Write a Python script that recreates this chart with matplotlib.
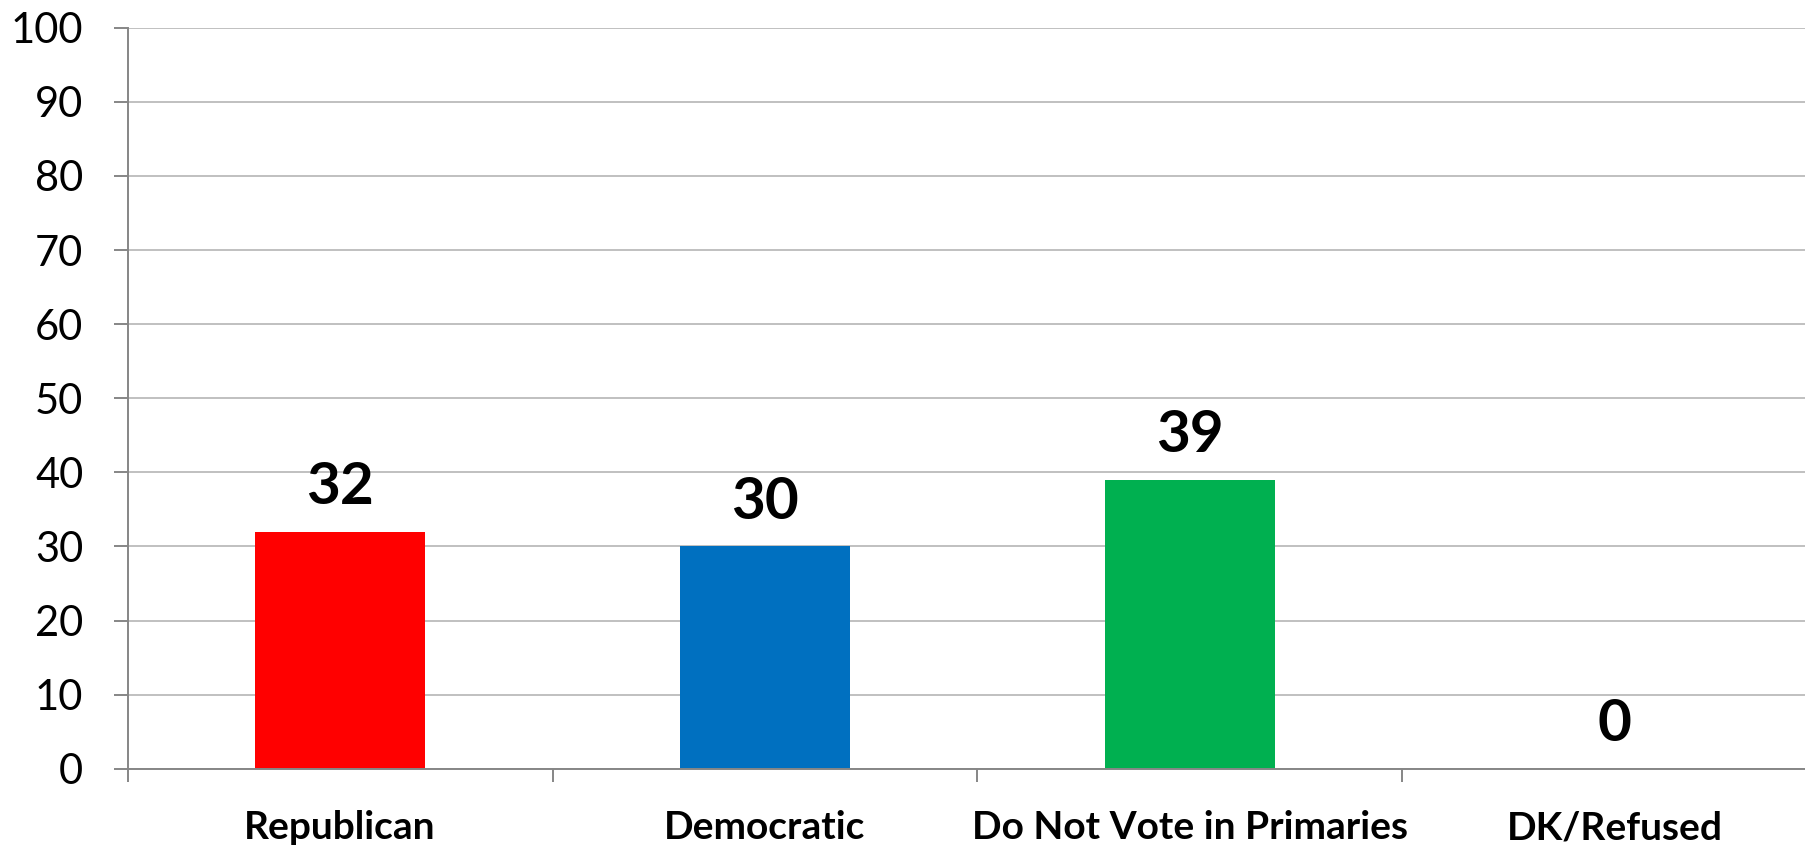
import matplotlib
matplotlib.use("Agg")
import matplotlib.pyplot as plt
from matplotlib.ticker import FixedLocator, NullFormatter

categories = ["Republican", "Democratic", "Do Not Vote in Primaries", "DK/Refused"]
values = [32, 30, 39, 0]
colors = ["#FF0000", "#0070C0", "#00B050", "#A5A5A5"]
yticks = [0, 10, 20, 30, 40, 50, 60, 70, 80, 90, 100]

plt.rcParams['font.family'] = ['Lato', 'DejaVu Sans']

W, H = 1805, 846
fig = plt.figure(figsize=(W / 100, H / 100), dpi=100)
left_px, right_px = 127.7, 127.7 + 4 * 424.8
y0_px, y100_px = 768.7, 27.7
ax = fig.add_axes([left_px / W, (H - y0_px) / H, (right_px - left_px) / W, (y0_px - y100_px) / H])

x = list(range(len(categories)))
bars = ax.bar(x, values, width=0.40, color=colors, zorder=3)

ax.set_xlim(-0.5, len(categories) - 0.5)
ax.set_ylim(0, 100)

gray = "#868686"
ax.set_yticks(yticks)
ax.set_yticklabels([str(v) for v in yticks], fontsize=30)
ax.yaxis.grid(True, color="#C0C0C0", linewidth=1.4, zorder=0)
ax.tick_params(axis='y', length=10, width=1.4, color=gray, pad=22, labelcolor="black")

ax.xaxis.set_major_locator(FixedLocator([i - 0.5 for i in range(len(categories) + 1)]))
ax.xaxis.set_major_formatter(NullFormatter())
ax.xaxis.set_minor_locator(FixedLocator(x))
ax.set_xticklabels(categories, minor=True, fontsize=28, fontweight='bold')
ax.tick_params(axis='x', which='major', length=9.4, width=1.4, color=gray)
ax.tick_params(axis='x', which='minor', length=0, pad=30)

for s in ['top', 'right']:
    ax.spines[s].set_visible(False)
for s in ['left', 'bottom']:
    ax.spines[s].set_color(gray)
    ax.spines[s].set_linewidth(1.4)
    ax.spines[s].set_zorder(4)

for xi, v in zip(x, values):
    ax.annotate(str(v), (xi, v), xytext=(0, 20), textcoords='offset points',
                ha='center', va='baseline', fontsize=42, fontweight='bold', zorder=5)

fig.savefig("out.png", dpi=100)
